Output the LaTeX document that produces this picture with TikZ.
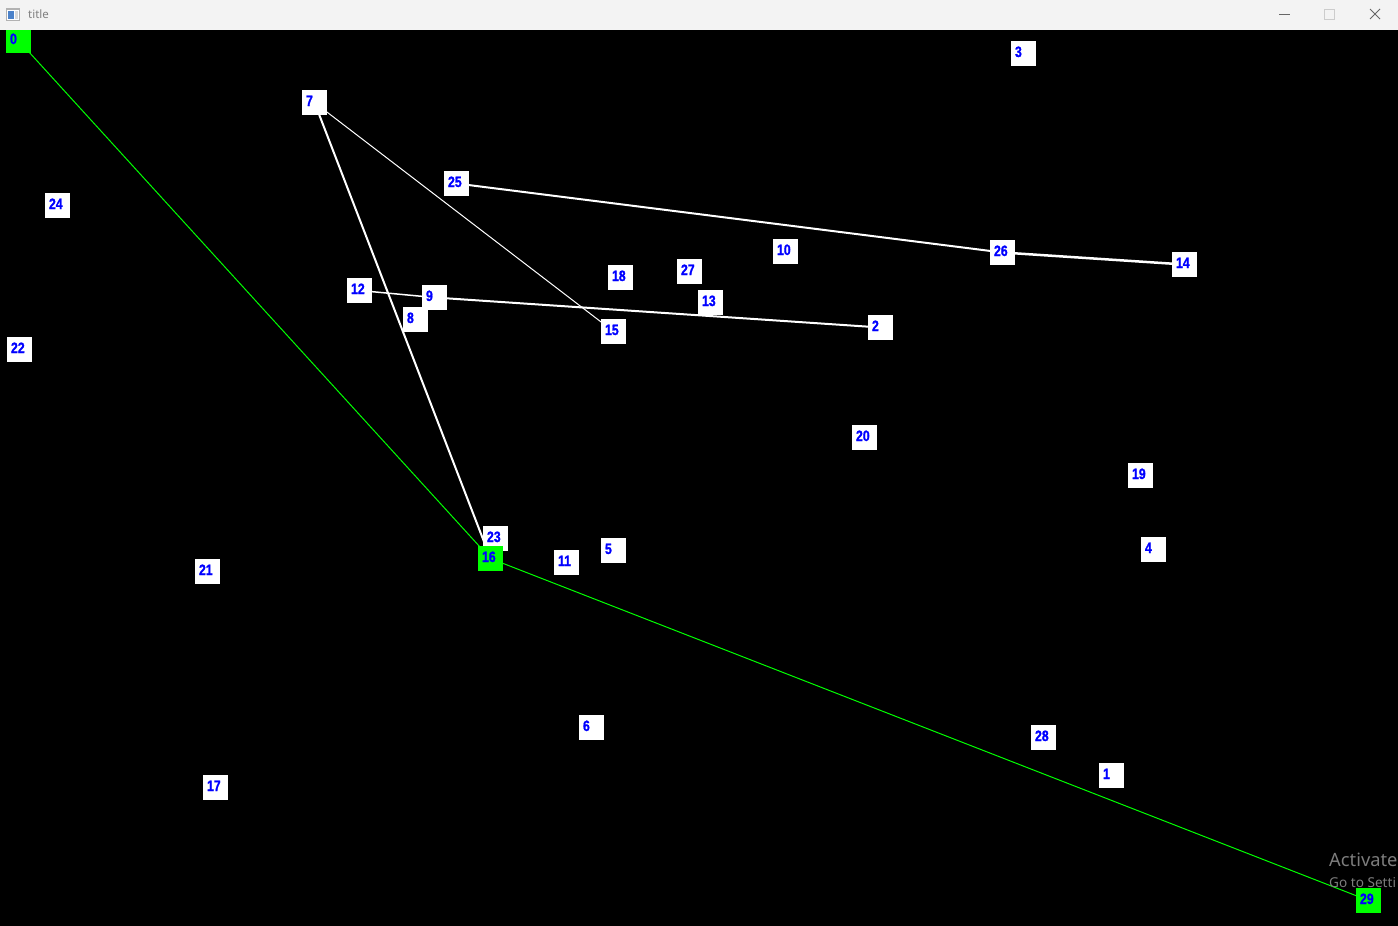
\documentclass[tikz,border=0pt]{standalone}
\usepackage{fontspec}
\usepackage{tikz}
\newfontfamily\numfont[FakeStretch=0.82, BoldFeatures={FakeBold=1.2}]{Liberation Sans}
\newfontfamily\uifont{Noto Sans}
\definecolor{barra}{RGB}{243,243,243}
\definecolor{verde}{RGB}{0,255,0}
\definecolor{azul}{RGB}{0,0,255}
\definecolor{marca}{RGB}{125,125,125}
\pgfdeclarelayer{fondo}
\pgfsetlayers{fondo,main}
\tikzset{
	caja/.style={rectangle, fill=white, minimum width=25pt, minimum height=25pt, inner sep=0pt,
		text width=17pt, align=left, text height=11pt, text depth=4pt, text=azul,
		font=\numfont\bfseries\fontsize{15}{15}\selectfont},
	cajaverde/.style={caja, fill=verde},
	arista/.style={white, line width=2pt},
	ruta/.style={verde, line width=1pt},
}
\begin{document}
\begin{tikzpicture}[x=1pt,y=-1pt]
		\useasboundingbox (0,0) rectangle (1398,926);
		\clip (0,0) rectangle (1398,926);
		
		% Fondo
		\begin{pgfonlayer}{fondo}
		\fill[black] (0,0) rectangle (1398,926);
		\end{pgfonlayer}
		
		% Nodos
		\node[cajaverde] (n0) at (18.5,40.5) {0};
		\node[caja] (n3) at (1023.5,53.5) {3};
		\node[caja] (n7) at (314.5,102.5) {7};
		\node[caja] (n25) at (456.5,183.5) {25};
		\node[caja] (n24) at (57.5,205.5) {24};
		\node[caja] (n10) at (785.5,251.5) {10};
		\node[caja] (n26) at (1002.5,252.5) {26};
		\node[caja] (n14) at (1184.5,264.5) {14};
		\node[caja] (n27) at (689.5,271.5) {27};
		\node[caja] (n18) at (620.5,277.5) {18};
		\node[caja] (n12) at (359.5,290.5) {12};
		\node[caja] (n8) at (415.5,319.5) {8};
		\node[caja] (n9) at (434.5,297.5) {9};
		\node[caja] (n13) at (710.5,302.5) {13};
		\node[caja] (n2) at (880.5,327.5) {2};
		\node[caja] (n15) at (613.5,331.5) {15};
		\node[caja] (n22) at (19.5,349.5) {22};
		\node[caja] (n20) at (864.5,437.5) {20};
		\node[caja] (n19) at (1140.5,475.5) {19};
		\node[caja] (n23) at (495.5,538.5) {23};
		\node[caja] (n4) at (1153.5,549.5) {4};
		\node[caja] (n5) at (613.5,550.5) {5};
		\node[caja] (n11) at (566.5,562.5) {11};
		\node[caja] (n21) at (207.5,571.5) {21};
		\node[caja] (n6) at (591.5,727.5) {6};
		\node[caja] (n28) at (1043.5,737.5) {28};
		\node[caja] (n1) at (1111.5,775.5) {1};
		\node[caja] (n17) at (215.5,787.5) {17};
		\node[cajaverde] (n16) at (490.5,558.5) {16};
		\node[cajaverde] (n29) at (1368.5,900.5) {29};
		
		% Aristas
		\begin{pgfonlayer}{fondo}
		\draw[arista] (n7.center) -- (n16.center);
		\draw[arista, line width=1pt] (n7.center) -- (n15.center);
		\draw[arista] (n25.center) -- (n26.center);
		\draw[arista, line width=2.5pt] (n26.center) -- (n14.center);
		\draw[arista, line width=1.5pt] (n12.center) -- (n9.center);
		\draw[arista] (n9.center) -- (n2.center);
		% Camino
		\draw[ruta] (n0.center) -- (n16.center);
		\draw[ruta] (n16.center) -- (n29.center);
		\end{pgfonlayer}
		
		% Marca de agua
		\node[anchor=base west, inner sep=0pt, text=marca, font=\uifont\fontsize{18.3}{18.3}\selectfont] (act) at (1329,866) {Activate};
		\node[anchor=base west, inner sep=0pt, text=marca, font=\uifont\fontsize{13.6}{13.6}\selectfont] (ir) at (1329,887) {Go to Setti};
		
		% Barra de titulo
		\fill[barra] (0,0) rectangle (1398,30);
		\fill[gray!60] (6,8) rectangle (20,21);
		\fill[white] (7,10) rectangle (19,20);
		\fill[teal!60!blue!70] (8,11) rectangle (14,19);
		\fill[gray!30] (15,11) rectangle (18,19);
		\node[anchor=base west, inner sep=0pt, text=gray, font=\uifont\fontsize{11.5}{11.5}\selectfont] (titulo) at (28,19) {title};
		\draw[gray!80!black, line width=0.8pt] (1279,14.5) -- (1290,14.5);
		\draw[gray!40, line width=0.8pt] (1324.5,9.5) rectangle (1334.5,19.5);
		\draw[gray!80!black, line width=0.8pt] (1370,9) -- (1380,19) (1380,9) -- (1370,19);
	
	\end{tikzpicture}
\end{document}
